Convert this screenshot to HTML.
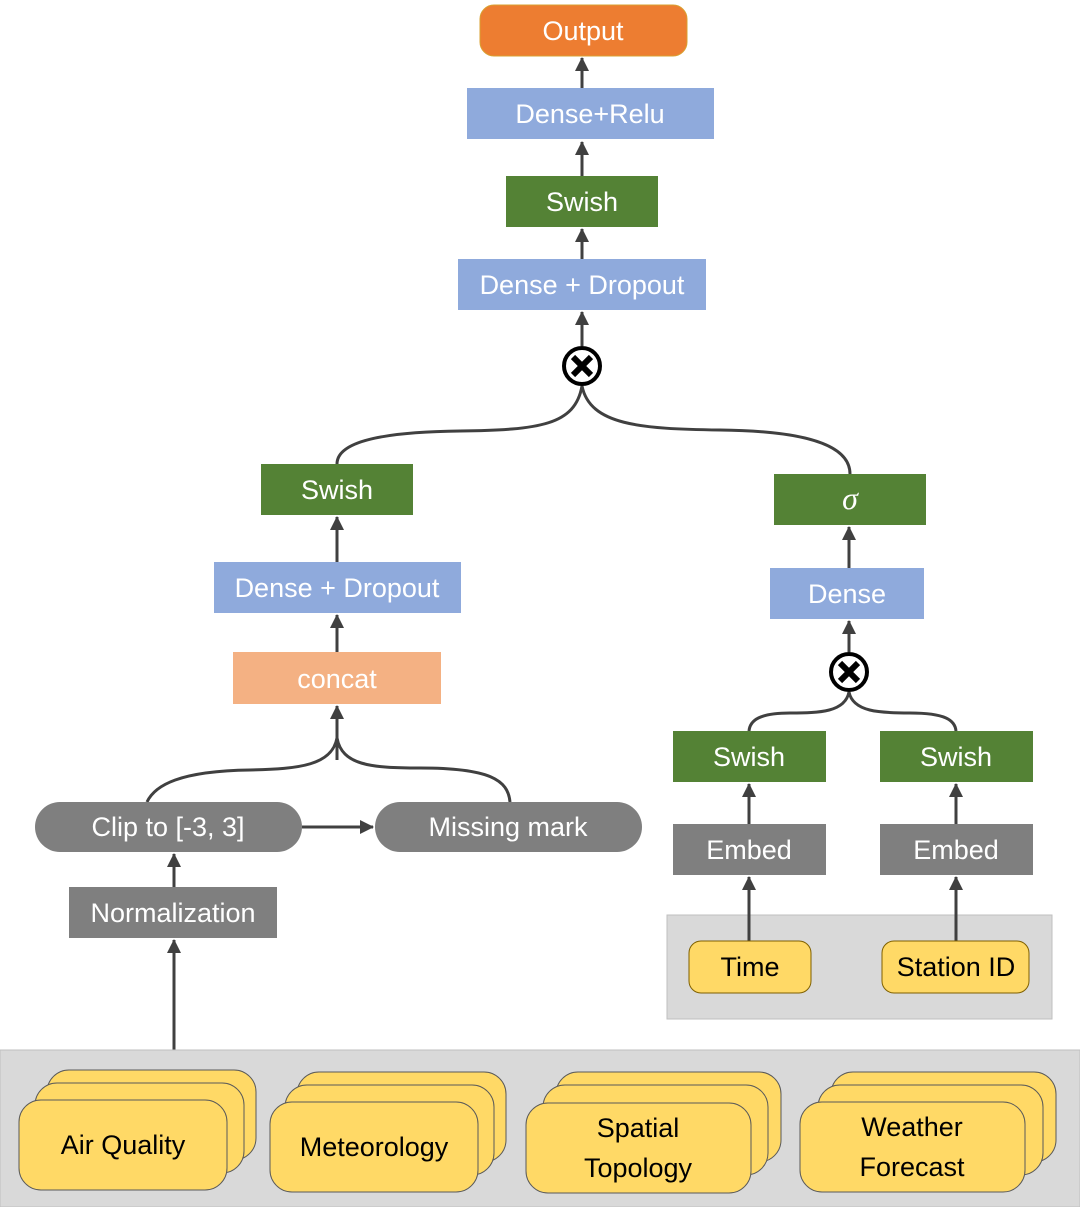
<!DOCTYPE html>
<html><head><meta charset="utf-8"><style>
html,body{margin:0;padding:0;background:#fff}
svg{display:block}
text{font-family:"Liberation Sans",sans-serif;font-size:27px;text-anchor:middle;dominant-baseline:central}
.w{fill:#fff}
.k{fill:#000}
</style></head><body>
<svg width="1080" height="1207" viewBox="0 0 1080 1207">
<defs>
<marker id="b" markerWidth="14" markerHeight="14" refX="13" refY="7" orient="auto" markerUnits="userSpaceOnUse">
<path d="M0,0 L14,7 L0,14 z" fill="#404040"/></marker>
</defs>
<g stroke="#404040" stroke-width="3" fill="none">
<line x1="582" y1="88" x2="582" y2="58" marker-end="url(#b)"/>
<line x1="582" y1="176" x2="582" y2="142" marker-end="url(#b)"/>
<line x1="582" y1="259" x2="582" y2="229" marker-end="url(#b)"/>
<line x1="582" y1="346" x2="582" y2="312" marker-end="url(#b)"/>
<path d="M582,386 C575,425 540,430 460,431 C370,432 337,445 337,464"/>
<path d="M582,386 C590,425 640,429 720,430 C820,431 850,450 850,474"/>
<line x1="337" y1="562" x2="337" y2="517" marker-end="url(#b)"/>
<line x1="337" y1="652" x2="337" y2="615" marker-end="url(#b)"/>
<line x1="337" y1="760" x2="337" y2="706" marker-end="url(#b)"/>
<path d="M337,738 C332,765 300,769 250,770 C180,771 155,785 147,802"/>
<path d="M337,738 C342,765 370,768 420,768 C490,768 508,780 510,802"/>
<line x1="302" y1="827" x2="373" y2="827" marker-end="url(#b)"/>
<line x1="174" y1="887" x2="174" y2="854" marker-end="url(#b)"/>
<line x1="174" y1="1050" x2="174" y2="940" marker-end="url(#b)"/>
<line x1="849" y1="568" x2="849" y2="527" marker-end="url(#b)"/>
<line x1="849" y1="652" x2="849" y2="621" marker-end="url(#b)"/>
<path d="M849,692 C845,712 820,713 790,713 C760,713 750,720 749,731"/>
<path d="M849,692 C853,712 880,713 910,713 C945,713 955,720 956,731"/>
<line x1="749" y1="824" x2="749" y2="784" marker-end="url(#b)"/>
<line x1="956" y1="824" x2="956" y2="784" marker-end="url(#b)"/>
</g>
<rect x="480" y="5" width="207" height="51" rx="14" fill="#ED7D31" stroke="#D9A030" stroke-width="1"/>
<text x="583" y="31" class="w">Output</text>
<rect x="467" y="88" width="247" height="51" fill="#8FAADC"/><text x="590" y="114" class="w">Dense+Relu</text>
<rect x="506" y="176" width="152" height="51" fill="#548235"/><text x="582" y="202" class="w">Swish</text>
<rect x="458" y="259" width="248" height="51" fill="#8FAADC"/><text x="582" y="285" class="w">Dense + Dropout</text>
<g><circle cx="582" cy="366" r="18" fill="#fff" stroke="#000" stroke-width="4"/>
<path d="M573,357 L591,375 M591,357 L573,375" stroke="#000" stroke-width="6"/></g>
<rect x="261" y="464" width="152" height="51" fill="#548235"/><text x="337" y="490" class="w">Swish</text>
<rect x="214" y="562" width="247" height="51" fill="#8FAADC"/><text x="337" y="588" class="w">Dense + Dropout</text>
<rect x="233" y="652" width="208" height="52" fill="#F4B183"/><text x="337" y="679" class="w">concat</text>
<rect x="35" y="802" width="267" height="50" rx="25" fill="#7F7F7F"/><text x="168" y="827" class="w">Clip to [-3, 3]</text>
<rect x="375" y="802" width="267" height="50" rx="25" fill="#7F7F7F"/><text x="508" y="827" class="w">Missing mark</text>
<rect x="69" y="887" width="208" height="51" fill="#7F7F7F"/><text x="173" y="913" class="w">Normalization</text>
<rect x="774" y="474" width="152" height="51" fill="#548235"/><text x="850" y="498" class="w" style="font-family:'Liberation Serif',serif;font-style:italic;font-size:32px">σ</text>
<rect x="770" y="568" width="154" height="51" fill="#8FAADC"/><text x="847" y="594" class="w">Dense</text>
<g><circle cx="849" cy="672" r="18" fill="#fff" stroke="#000" stroke-width="4"/>
<path d="M840,663 L858,681 M858,663 L840,681" stroke="#000" stroke-width="6"/></g>
<rect x="673" y="731" width="153" height="51" fill="#548235"/><text x="749" y="757" class="w">Swish</text>
<rect x="880" y="731" width="153" height="51" fill="#548235"/><text x="956" y="757" class="w">Swish</text>
<rect x="673" y="824" width="153" height="51" fill="#7F7F7F"/><text x="749" y="850" class="w">Embed</text>
<rect x="880" y="824" width="153" height="51" fill="#7F7F7F"/><text x="956" y="850" class="w">Embed</text>
<rect x="667" y="915" width="385" height="104" fill="#D9D9D9" stroke="#BFBFBF"/>
<g stroke="#404040" stroke-width="3"><line x1="749" y1="941" x2="749" y2="877" marker-end="url(#b)"/><line x1="956" y1="941" x2="956" y2="877" marker-end="url(#b)"/></g>
<rect x="689" y="941" width="122" height="52" rx="12" fill="#FFD966" stroke="#7F6000" stroke-width="1"/><text x="750" y="967" class="k">Time</text>
<rect x="882" y="941" width="147" height="52" rx="12" fill="#FFD966" stroke="#7F6000" stroke-width="1"/><text x="956" y="967" class="k">Station ID</text>
<rect x="0" y="1050" width="1080" height="157" fill="#D9D9D9" stroke="#BFBFBF"/>
<g fill="#FFD966" stroke="#595959" stroke-width="1">
<rect x="47" y="1070" width="209" height="90" rx="22"/><rect x="35" y="1083" width="209" height="90" rx="22"/><rect x="19" y="1100" width="208" height="90" rx="22"/>
<rect x="297" y="1072" width="209" height="90" rx="22"/><rect x="285" y="1085" width="209" height="90" rx="22"/><rect x="270" y="1102" width="208" height="90" rx="22"/>
<rect x="556" y="1072" width="225" height="90" rx="22"/><rect x="543" y="1085" width="225" height="90" rx="22"/><rect x="526" y="1103" width="225" height="90" rx="22"/>
<rect x="831" y="1072" width="225" height="90" rx="22"/><rect x="818" y="1085" width="225" height="90" rx="22"/><rect x="800" y="1102" width="225" height="90" rx="22"/>
</g>
<text x="123" y="1145" class="k">Air Quality</text>
<text x="374" y="1147" class="k">Meteorology</text>
<text x="638" y="1128" class="k">Spatial</text><text x="638" y="1168" class="k">Topology</text>
<text x="912" y="1127" class="k">Weather</text><text x="912" y="1167" class="k">Forecast</text>
</svg>
</body></html>
